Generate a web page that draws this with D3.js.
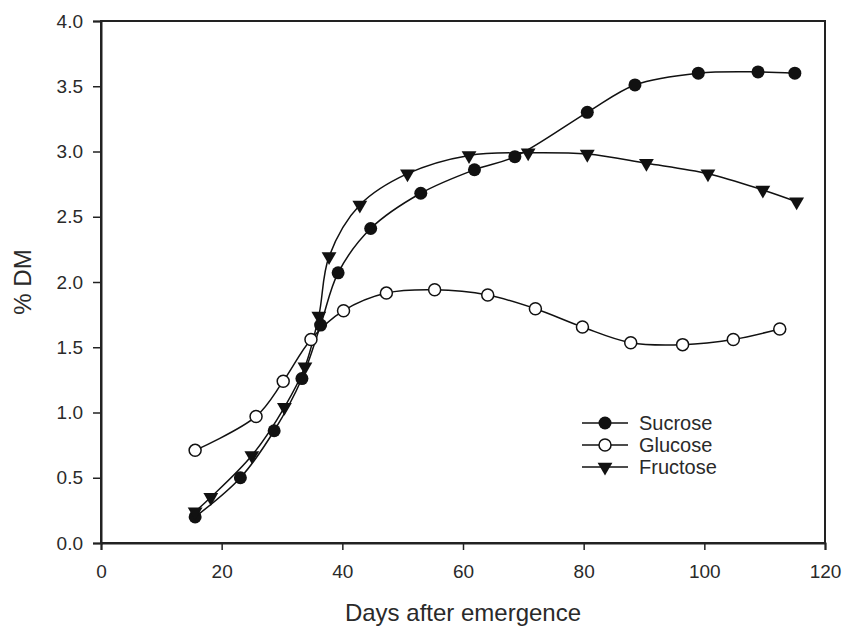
<!DOCTYPE html>
<html>
<head>
<meta charset="utf-8">
<script src="https://cdn.jsdelivr.net/npm/d3@7"></script>
<style>
  body { margin: 0; background: #fff; }
  svg { display: block; font-family: "Liberation Sans", Arial, sans-serif; }
</style>
</head>
<body>
<svg id="chart"></svg>
<script>
// values
var sucroseDays = [15.6, 23.1, 28.7, 33.3, 36.4, 39.3, 44.7, 53.0, 61.9, 68.6, 80.6, 88.5, 99.0, 108.9, 115.0]
var sucroseDM   = [0.20, 0.50, 0.86, 1.26, 1.67, 2.07, 2.41, 2.68, 2.86, 2.96, 3.30, 3.51, 3.60, 3.61, 3.60]

var glucoseDays = [15.6, 25.7, 30.2, 34.8, 40.2, 47.3, 55.3, 64.1, 72.0, 79.8, 87.8, 96.4, 104.8, 112.5]
var glucoseDM   = [0.71, 0.97, 1.24, 1.56, 1.78, 1.915, 1.94, 1.90, 1.795, 1.655, 1.535, 1.52, 1.56, 1.64]

var fructoseDays = [15.6, 18.2, 25.0, 30.4, 33.8, 36.1, 37.8, 42.9, 50.8, 61.0, 70.8, 80.6, 90.4, 100.6, 109.7, 115.3]
var fructoseDM   = [0.24, 0.35, 0.67, 1.04, 1.35, 1.74, 2.195, 2.59, 2.83, 2.97, 2.99, 2.98, 2.91, 2.83, 2.705, 2.615]

var xTicks = [0, 20, 40, 60, 80, 100, 120]
var yTicks = [0, 0.5, 1, 1.5, 2, 2.5, 3, 3.5, 4]

var seriesNames = ["Sucrose", "Glucose", "Fructose"]

var W = 845, H = 626
var margin = {top: 21, right: 20, bottom: 83, left: 101}
var width = W - margin.left - margin.right
var height = H - margin.top - margin.bottom

var svg = d3.select("#chart").attr("width", W).attr("height", H)

var x = d3.scaleLinear().domain([0, 120]).range([margin.left, margin.left + width])
var y = d3.scaleLinear().domain([0, 4]).range([margin.top + height, margin.top])

var ink = "#111"
var textInk = "#2a2a2a"

// frame
svg.append("rect")
    .attr("x", x(0)).attr("y", y(4))
    .attr("width", x(120) - x(0)).attr("height", y(0) - y(4))
    .attr("fill", "none").attr("stroke", "#222").attr("stroke-width", 2)

var xAxis = svg.append("g")
    .attr("transform", "translate(0," + y(0) + ")")
    .call(d3.axisBottom(x).tickValues(xTicks).tickSize(7).tickPadding(15).tickFormat(d3.format("d")))
var yAxis = svg.append("g")
    .attr("transform", "translate(" + x(0) + ",0)")
    .call(d3.axisLeft(y).tickValues(yTicks).tickSize(8).tickPadding(10).tickFormat(d3.format(".1f")))

;[xAxis, yAxis].forEach(function(a) {
    a.select(".domain").attr("stroke", "#222").attr("stroke-width", 2)
    a.selectAll(".tick line").attr("stroke", "#222").attr("stroke-width", 1.5)
    a.selectAll(".tick text").attr("fill", textInk).style("font-size", "19px")
})

// axis titles
svg.append("text")
    .attr("x", (x(0) + x(120)) / 2).attr("y", 621)
    .attr("text-anchor", "middle").attr("fill", textInk)
    .style("font-size", "24px")
    .text("Days after emergence")

svg.append("text")
    .attr("transform", "translate(31," + y(2) + ") rotate(-90)")
    .attr("text-anchor", "middle").attr("fill", textInk)
    .style("font-size", "24px")
    .text("% DM")

var line = d3.line()
    .x(function(d) { return x(d[0]) })
    .y(function(d) { return y(d[1]) })
    .curve(d3.curveCatmullRom.alpha(0.5))

var tri = d3.symbol().type(d3.symbolTriangle).size(95)

function drawMarker(sel, kind) {
    if (kind === "Fructose") {
        sel.append("path").attr("d", tri).attr("transform", "rotate(180)").attr("fill", ink)
    } else if (kind === "Glucose") {
        sel.append("circle").attr("r", 6).attr("fill", "#fff").attr("stroke", ink).attr("stroke-width", 1.5)
    } else {
        sel.append("circle").attr("r", 6.5).attr("fill", ink)
    }
}

var series = [
    {name: "Sucrose", pts: d3.zip(sucroseDays, sucroseDM)},
    {name: "Glucose", pts: d3.zip(glucoseDays, glucoseDM)},
    {name: "Fructose", pts: d3.zip(fructoseDays, fructoseDM)}
]

series.forEach(function(s) {
    svg.append("path")
        .datum(s.pts)
        .attr("d", line)
        .attr("fill", "none").attr("stroke", ink).attr("stroke-width", 1.5)
})

series.forEach(function(s) {
    svg.append("g").selectAll("g")
        .data(s.pts)
        .join("g")
        .attr("transform", function(d) { return "translate(" + x(d[0]) + "," + y(d[1]) + ")" })
        .each(function() { drawMarker(d3.select(this), s.name) })
})

// legend
var legend = svg.append("g").attr("transform", "translate(582,423)")
var rows = legend.selectAll("g")
    .data(seriesNames)
    .join("g")
    .attr("transform", function(d, i) { return "translate(0," + (i * 22) + ")" })

rows.append("line").attr("x1", 0).attr("x2", 46).attr("stroke", ink).attr("stroke-width", 1.5)
rows.append("g").attr("transform", "translate(23,0)").each(function(d) { drawMarker(d3.select(this), d) })
rows.append("text")
    .attr("x", 57).attr("dy", "0.35em")
    .attr("fill", textInk)
    .style("font-size", "20px")
    .text(function(d) { return d })
</script>
</body>
</html>
